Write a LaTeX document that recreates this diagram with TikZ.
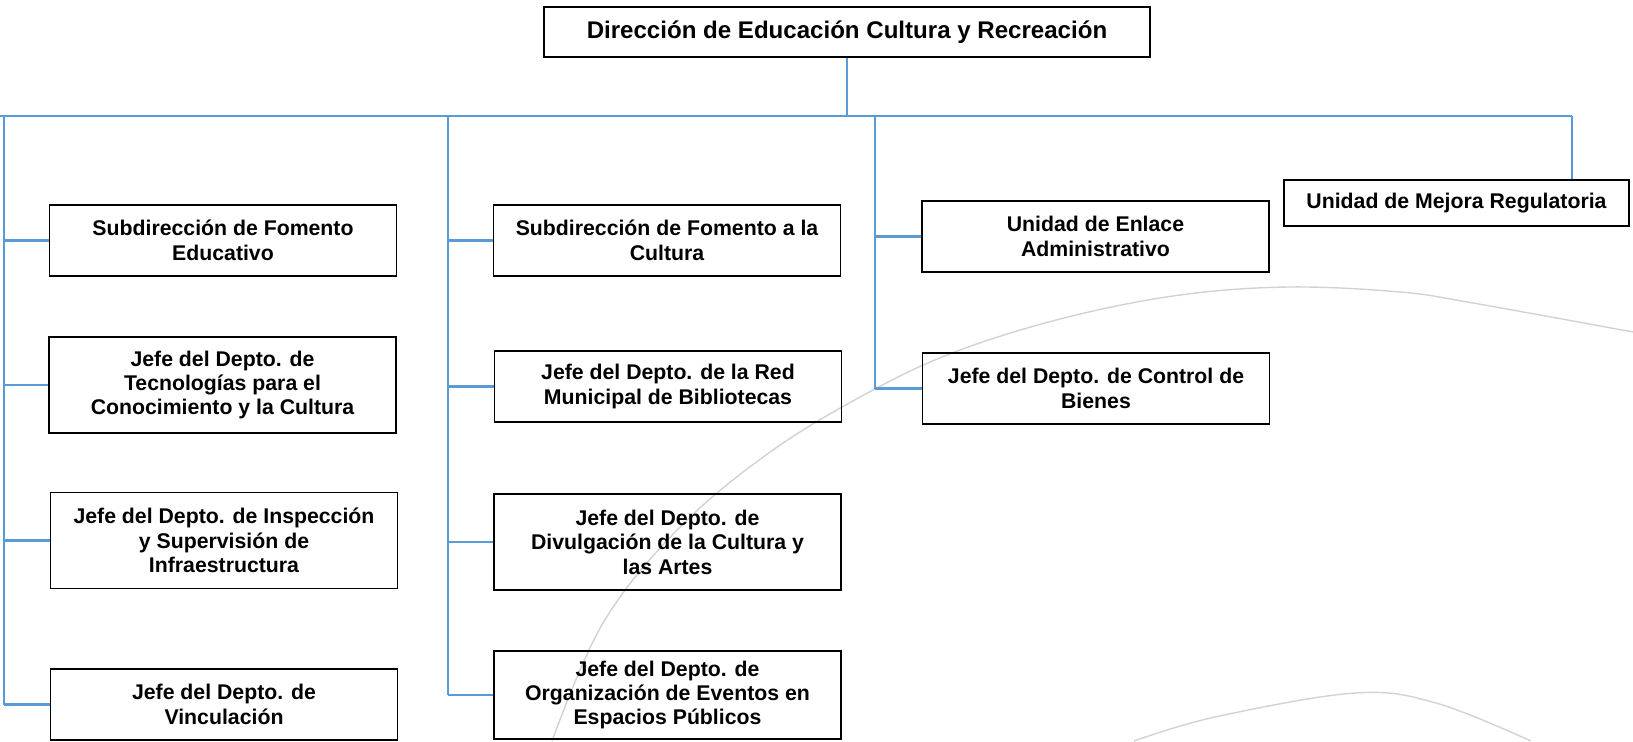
\documentclass[tikz,border=0pt]{standalone}
\usepackage{fontspec}
\setmainfont{Liberation Sans}
\usetikzlibrary{positioning}
\definecolor{linkblue}{HTML}{5B9BD5}
\definecolor{arcgray}{HTML}{D2D2D2}

\begin{document}
\begin{tikzpicture}[x=0.2mm, y=-0.2mm,
    box/.style={draw=black, line width=1.1pt, align=center, inner sep=0pt,
      minimum width=69.4mm, minimum height=14.2mm,
      font=\fontsize{12.1pt}{13.9pt}\selectfont\bfseries},
    tallbox/.style={box, minimum height=19.2mm},
    link/.style={draw=linkblue, line width=1.4pt},
    watermark/.style={draw=arcgray, line width=0.8pt}]
      \useasboundingbox (0,0) rectangle (1633,741);

      % Draw the faint arcs in the background
      \draw[watermark] plot[smooth, tension=0.6] coordinates {(552,741) (603,623) (680,527) (773,450) (873,390) (960,350) (1068,317) (1180,295) (1289,287) (1400,292) (1473,303) (1633,332)};
      \draw[watermark] plot[smooth, tension=0.6] coordinates {(1134,741) (1215,717) (1355,693) (1436,703) (1531,741)};

      % Head of the chart
      \node[box, minimum width=121.2mm, minimum height=10mm,
        font=\fontsize{13.7pt}{15pt}\selectfont\bfseries] (dir) at (847,32) {Dirección de Educación Cultura y Recreación};

      % First column
      \node[box] (subedu) at (223,240.5) {Subdirección de Fomento\\Educativo};
      \node[tallbox] (tecno) at (222.5,385) {Jefe del Depto. de\\Tecnologías para el\\Conocimiento y la Cultura};
      \node[tallbox] (inspec) at (224,540.5) {Jefe del Depto. de Inspección\\y Supervisión de\\Infraestructura};
      \node[box] (vincu) at (224,704.5) {Jefe del Depto. de\\Vinculación};

      % Second column
      \node[box] (subcult) at (667,240.5) {Subdirección de Fomento a la\\Cultura};
      \node[box] (red) at (668,386.5) {Jefe del Depto. de la Red\\Municipal de Bibliotecas};
      \node[tallbox] (divul) at (667.5,542) {Jefe del Depto. de\\Divulgación de la Cultura y\\las Artes};
      \node[box, minimum height=17.6mm] (organ) at (667.5,695) {Jefe del Depto. de\\Organización de Eventos en\\Espacios Públicos};

      % Third column
      \node[box] (enlace) at (1095.5,236.5) {Unidad de Enlace\\Administrativo};
      \node[box] (bienes) at (1096,388.5) {Jefe del Depto. de Control de\\Bienes};

      % Right box
      \node[box, minimum width=69mm, minimum height=9.2mm] (mejora) at (1456.5,203) {Unidad de Mejora Regulatoria};

      % Bus and column lines
      \coordinate (busL) at (0,116);
      \coordinate (busR) at (1572,116);
      \coordinate (colA) at (4,116);
      \coordinate (colB) at (448,116);
      \coordinate (colC) at (875,116);
      \draw[link, line width=1.1pt] (busL) -- (busR);
      \draw[link] (dir.south) -- (dir.south |- busL);
      \draw[link] (colA) -- (colA |- vincu.west);
      \draw[link] (colB) -- (colB |- organ.west);
      \draw[link] (colC) -- (colC |- bienes.west);
      \draw[link] (busR) -- (busR |- mejora.north);

      % Branches to the boxes
      \foreach \n in {subedu, tecno, inspec, vincu}
        \draw[link] (colA |- \n.west) -- (\n.west);
      \foreach \n in {subcult, red, divul, organ}
        \draw[link] (colB |- \n.west) -- (\n.west);
      \foreach \n in {enlace, bienes}
        \draw[link] (colC |- \n.west) -- (\n.west);
    \end{tikzpicture}
\end{document}
